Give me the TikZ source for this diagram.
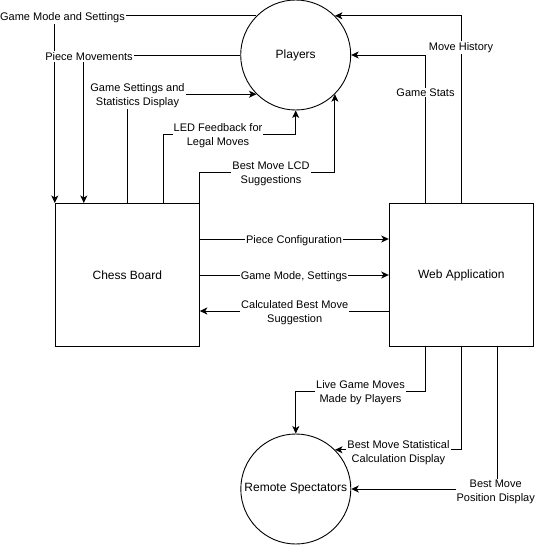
\documentclass[tikz,border=0pt]{standalone}
\usepackage{fontspec}
\setmainfont{Liberation Sans}
\usetikzlibrary{arrows.meta,calc}
\newcommand{\dn}[1]{\raisebox{-1.5pt}{#1}}
\begin{document}
\begin{tikzpicture}[x=1pt,y=-1pt,
  circ/.style={draw,circle,minimum size=110pt,inner sep=0pt,line width=0.9pt,font=\fontsize{12}{14}\selectfont},
  box/.style={draw,rectangle,minimum width=144pt,minimum height=143pt,inner sep=0pt,line width=1pt,font=\fontsize{12}{14}\selectfont},
  arr/.style={line width=1pt,-{Stealth[length=7.5pt,width=7pt,inset=2pt]}},
  lbl/.style={fill=white,inner sep=1pt,align=center,yshift=-1.5pt,font=\fontsize{11}{14}\selectfont}]
\useasboundingbox (0,0) rectangle (535,546);

\node[circ] (pl) at (295.7,55) {\dn{Players}};
\node[box] (cb) at (127.3,275) {\dn{Chess Board}};
\node[box] (wa) at (461.3,275) {\dn{Web Application}};
\node[circ] (rs) at (295.8,489) {\dn{Remote Spectators}};

\coordinate (b4) at (296,134);
\coordinate (b5) at (334,172);
\coordinate (b11) at (296,391);

% Players -> Chess Board
\draw[arr] (pl.135) -| (cb.north west);
\draw[arr] (pl.west) -| ([xshift=29pt]cb.north west);
% Chess Board -> Players
\draw[arr] (cb.north) |- (pl.225);
\draw[arr] ([xshift=108.5pt]cb.north west) |- (pl.south |- b4) -- (pl.south);
\draw[arr] (cb.north east) |- (pl.-45 |- b5) -- (pl.-45);
% Web Application -> Players
\draw[arr] (wa.north) |- (pl.45);
\draw[arr] ([xshift=-36pt]wa.north) |- (pl.east);
% Chess Board <-> Web Application
\draw[arr] ([yshift=36pt]cb.east) -- ([yshift=36pt]wa.west);
\draw[arr] (cb.east) -- (wa.west);
\draw[arr] ([yshift=-36pt]wa.west) -- ([yshift=-36pt]cb.east);
% Web Application -> Remote Spectators
\draw[arr] ([xshift=-36pt]wa.south) |- (rs.north |- b11) -- (rs.north);
\draw[arr] (wa.south) |- (rs.45);
\draw[arr] ([xshift=36pt]wa.south) |- (rs.east);

% labels
\node[lbl] (l1) at (62.5,16) {Game Mode and Settings};
\node[lbl] (l2) at (89,55) {Piece Movements};
\node[lbl] (l3) at (137.5,94) {Game Settings and\\Statistics Display};
\node[lbl] (l4) at (218,134) {LED Feedback for\\Legal Moves};
\node[lbl] (l5) at (271,172) {Best Move LCD\\Suggestions};
\node[lbl] (l6) at (461,46) {Move History};
\node[lbl] (l7) at (425.5,91) {Game Stats};
\node[lbl] (l8) at (294,239) {Piece Configuration};
\node[lbl] (l9) at (294,275) {Game Mode, Settings};
\node[lbl] (l10) at (294.7,311) {Calculated Best Move\\Suggestion};
\node[lbl] (l11) at (360.5,391) {Live Game Moves\\Made by Players};
\node[lbl] (l12) at (398.5,451) {Best Move Statistical\\Calculation Display};
\node[lbl] (l13) at (495.7,490) {Best Move\\Position Display};
\end{tikzpicture}
\end{document}
